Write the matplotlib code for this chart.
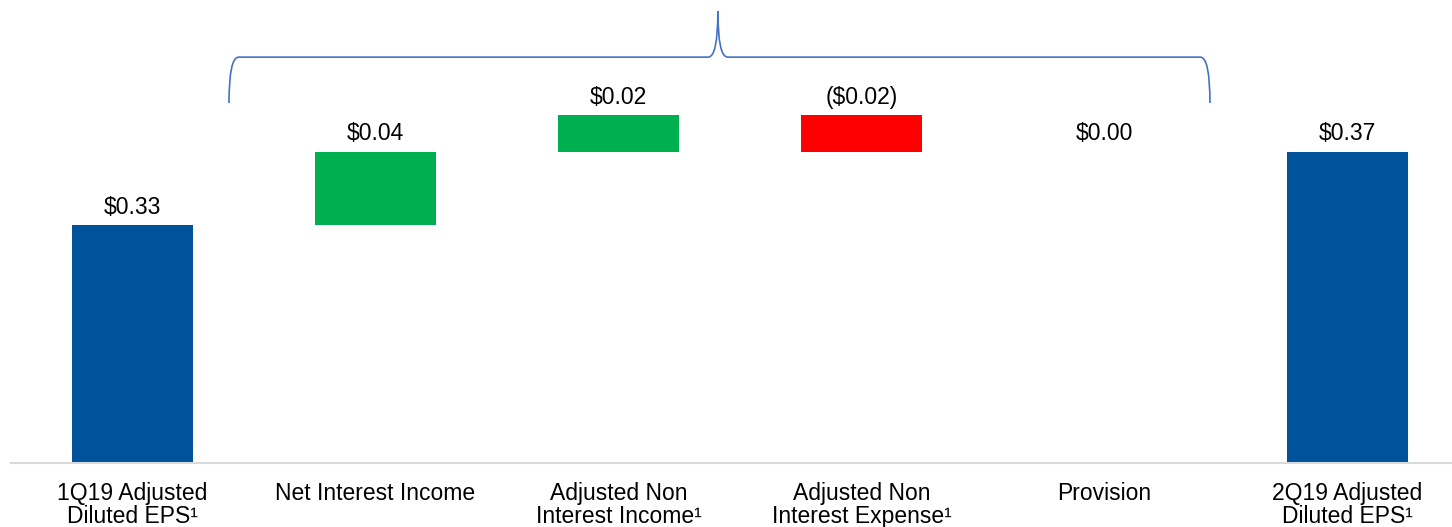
import matplotlib.pyplot as plt
import numpy as np
from matplotlib.path import Path
from matplotlib.patches import PathPatch

plt.rcParams['font.family'] = ['Liberation Sans', 'DejaVu Sans']

categories = ["1Q19 Adjusted\nDiluted EPS\u00b9", "Net Interest Income",
              "Adjusted Non\nInterest Income\u00b9", "Adjusted Non\nInterest Expense\u00b9",
              "Provision", "2Q19 Adjusted\nDiluted EPS\u00b9"]
start_eps = 0.33
changes = [0.04, 0.02, -0.02, 0.00]
end_eps = 0.37
value_labels = ["$0.33", "$0.04", "$0.02", "($0.02)", "$0.00", "$0.37"]

blue = "#00539b"
green = "#00b050"
red = "#ff0000"

fig = plt.figure(figsize=(14.52, 5.27), dpi=100)
ax = fig.add_axes([11 / 1452, 64 / 527, 1 - 11 / 1452, 463 / 527])

x = np.arange(len(categories))
heights = [start_eps] + [abs(c) for c in changes] + [end_eps]
bottoms = [0.0]
level = start_eps
for c in changes:
    bottoms.append(level if c >= 0 else level + c)
    level += c
bottoms.append(0.0)
colors = [blue] + [green if c > 0 else red for c in changes] + [blue]

ax.bar(x, heights, bottom=bottoms, width=0.5, color=colors)

for xi, b, h, lab in zip(x, bottoms, heights, value_labels):
    ax.text(xi, b + h + 0.0035, lab, ha='center', va='bottom', fontsize=16.5, color='black')

ax.set_xlim(-0.5, 5.43)
ax.set_ylim(0.20, 0.4529)

ax.set_xticks(x)
ax.set_xticklabels(categories, fontsize=16.5, linespacing=1.0)
ax.tick_params(axis='x', length=0, pad=14)
ax.set_yticks([])
for s in ['top', 'left', 'right']:
    ax.spines[s].set_visible(False)
ax.spines['bottom'].set_color('#d9d9d9')
ax.spines['bottom'].set_linewidth(1.5)

# curly brace over the change bars
xl, xr, xm = 0.397, 4.434, 2.409
yb, yh, yt = 0.3966, 0.4217, 0.4469
r = 0.04
verts = [(xl, yb), (xl, yh), (xl + r, yh), (xm - r, yh), (xm, yh), (xm, yt),
         (xm, yh), (xm + r, yh), (xr - r, yh), (xr, yh), (xr, yb)]
codes = [Path.MOVETO, Path.CURVE3, Path.CURVE3, Path.LINETO, Path.CURVE3, Path.CURVE3,
         Path.CURVE3, Path.CURVE3, Path.LINETO, Path.CURVE3, Path.CURVE3]
ax.add_patch(PathPatch(Path(verts, codes), fill=False, edgecolor='#4472c4', lw=1.2,
                       clip_on=False))

fig.savefig("out.png", dpi=100)
